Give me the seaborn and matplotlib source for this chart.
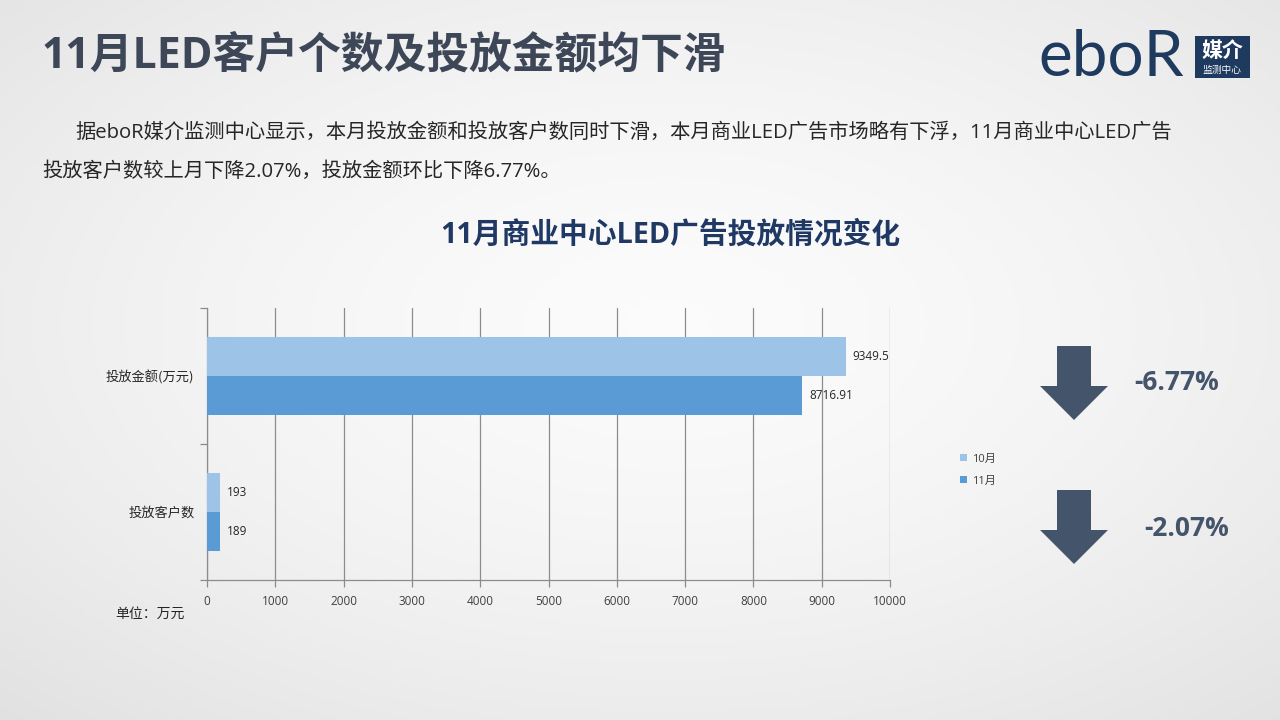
import numpy as np
import pandas as pd
import matplotlib
matplotlib.use("Agg")
import matplotlib.pyplot as plt
from matplotlib.patches import Polygon, Rectangle, Patch
import seaborn as sns

# ---- data ----
categories = ['投放金额(万元)', '投放客户数']
months = ['10月', '11月']
oct_values = [9349.5, 193]
nov_values = [8716.91, 189]
x_ticks = [0, 1000, 2000, 3000, 4000, 5000, 6000, 7000, 8000, 9000, 10000]
changes = ['-6.77%', '-2.07%']

sns.set_theme(style="white")
FAM = ['Open Sans', 'Noto Sans CJK SC', 'DejaVu Sans']
plt.rcParams['font.family'] = FAM

W, H = 1280, 720
fig = plt.figure(figsize=(12.8, 7.2), dpi=100)

def fx(px):
    return px / W

def fy(py):
    return 1 - py / H

# background gradient
bg = fig.add_axes([0, 0, 1, 1], zorder=-10)
yy, xx = np.mgrid[0:1:200j, 0:1:356j]
r = np.sqrt(((xx - 0.52) / 0.75) ** 2 + ((yy - 0.45) / 0.75) ** 2)
v = 0.985 - 0.10 * r ** 1.6
img = np.dstack([v, v, v])
bg.imshow(np.clip(img, 0, 1), extent=[0, 1, 0, 1], aspect='auto', origin='upper')
bg.axis('off')

# ---- chart ----
df = pd.DataFrame({
    '指标': categories * 2,
    '值': oct_values + nov_values,
    '月份': [months[0]] * 2 + [months[1]] * 2,
})
ax = fig.add_axes([fx(207), fy(580), fx(890) - fx(207), fy(308) - fy(580)])
ax.set_facecolor('none')
colors = ['#9DC3E6', '#5B9BD5']
sns.barplot(data=df, y='指标', x='值', hue='月份', hue_order=months, order=categories,
            palette=colors, width=0.57, orient='h', ax=ax, legend=False,
            saturation=1, zorder=3, linewidth=0)
ax.set_xlim(0, 10000)
ax.set_ylim(1.5, -0.5)
ax.set_xticks(x_ticks)
ax.set_xticklabels([str(t) for t in x_ticks], fontsize=8.5, color='#404040')
ax.grid(axis='x', color='#8C8C8C', linewidth=0.9, zorder=0)
ax.grid(axis='y', visible=False)
ax.set_xlabel('')
ax.set_ylabel('')
for s in ['top', 'right']:
    ax.spines[s].set_visible(False)
for s in ['left', 'bottom']:
    ax.spines[s].set_color('#8C8C8C')
    ax.spines[s].set_linewidth(0.9)
ax.tick_params(axis='x', bottom=True, length=5, width=0.9, color='#8C8C8C', pad=6, direction='out')
ax.tick_params(axis='y', which='major', left=False, length=0, labelsize=9.5,
               labelcolor='#262626', pad=9)
for lbl in ax.get_yticklabels():
    lbl.set_fontfamily(['Noto Sans CJK SC', 'DejaVu Sans'])
ax.set_yticks([-0.5, 0.5, 1.5], minor=True)
ax.tick_params(axis='y', which='minor', left=True, length=5, width=0.9, color='#8C8C8C', direction='out')
for cont in ax.containers:
    ax.bar_label(cont, labels=[f'{w:g}' for w in cont.datavalues], padding=5,
                 fontsize=8.5, color='#262626')

# legend
handles = [Patch(facecolor=c, edgecolor='none', label=m) for c, m in zip(colors, months)]
fig.legend(handles=handles, loc='center left', bbox_to_anchor=(fx(950), fy(470)),
           frameon=False, fontsize=8, handlelength=0.6, handleheight=0.6,
           handletextpad=0.5, labelspacing=1.0, labelcolor='#404040')

# unit
fig.text(fx(115), fy(614), '单位：万元', fontsize=10, color='#262626', va='center',
         fontfamily=['Noto Sans CJK SC', 'DejaVu Sans'])

# ---- titles ----
fig.text(fx(42), fy(56), '11月LED客户个数及投放金额均下滑', fontsize=30.8, fontweight='bold',
         color='#3D4758', va='center', ha='left')
fig.text(fx(75), fy(133),
         '据eboR媒介监测中心显示，本月投放金额和投放客户数同时下滑，本月商业LED广告市场略有下浮，11月商业中心LED广告',
         fontsize=14.6, color='#262626', va='center', ha='left')
fig.text(fx(42), fy(172), '投放客户数较上月下降2.07%，投放金额环比下降6.77%。',
         fontsize=14.6, color='#262626', va='center', ha='left')
fig.text(fx(670), fy(235), '11月商业中心LED广告投放情况变化', fontsize=20.7, fontweight='bold',
         color='#1F3864', va='center', ha='center')

# ---- arrows ----
arrow_color = '#44546A'
def arrow(top, head, tip):
    pts = [(1057, top), (1091, top), (1091, head), (1108, head), (1074, tip),
           (1040, head), (1057, head)]
    fig.patches.append(Polygon([(fx(x), fy(y)) for x, y in pts], closed=True,
                               transform=fig.transFigure, facecolor=arrow_color,
                               edgecolor='none'))
arrow(346, 386, 420)
arrow(490, 530, 564)
fig.text(fx(1177), fy(383), changes[0], fontsize=19, fontweight='bold', color=arrow_color,
         va='center', ha='center')
fig.text(fx(1187), fy(528), changes[1], fontsize=19, fontweight='bold', color=arrow_color,
         va='center', ha='center')

# ---- logo ----
navy = '#1F3A5F'
fig.text(fx(1111), fy(58), 'eboR', fontsize=46, fontfamily='Lato', fontweight='normal',
         color=navy, va='center', ha='center')
fig.patches.append(Rectangle((fx(1195), fy(78)), fx(55), fy(36) - fy(78),
                             transform=fig.transFigure, facecolor=navy, edgecolor='none'))
fig.text(fx(1222), fy(50), '媒介', fontsize=15, fontweight='bold', color='white',
         va='center', ha='center', fontfamily=['Noto Sans CJK SC'])
fig.text(fx(1222), fy(70), '监测中心', fontsize=7, color='white', va='center', ha='center',
         fontfamily=['Noto Sans CJK SC'])

fig.savefig('out.png', dpi=100)
